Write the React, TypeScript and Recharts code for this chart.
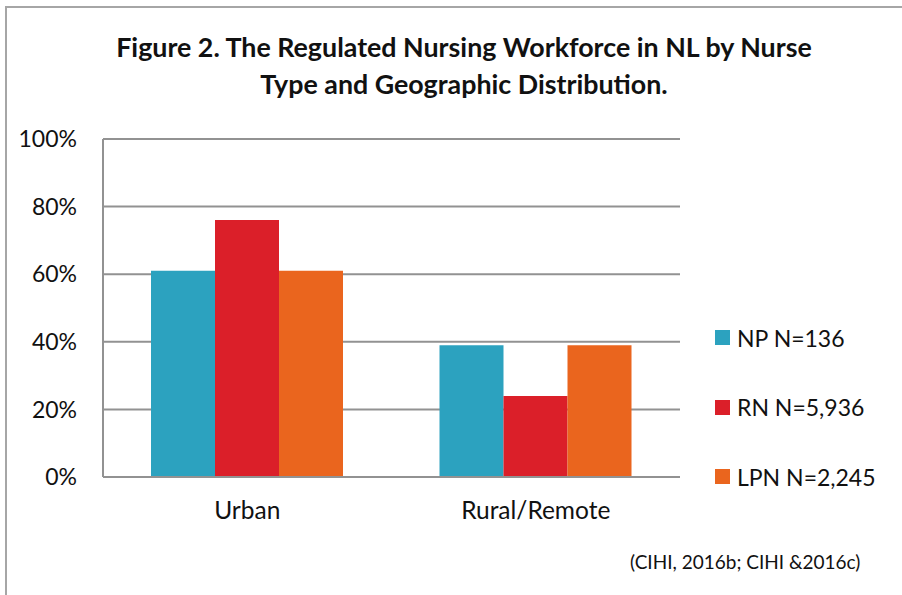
import { Bar, BarChart, CartesianGrid, Legend, XAxis, YAxis } from "recharts";

const categories = ["Urban", "Rural/Remote"];
const npValues = [61, 39];
const rnValues = [76, 24];
const lpnValues = [61, 39];
const yTicks = [0, 20, 40, 60, 80, 100];

const seriesKeys = ["np", "rn", "lpn"];
const seriesNames = ["NP N=136", "RN N=5,936", "LPN N=2,245"];
const seriesColors = ["#2ca2bf", "#db1f29", "#ea651e"];

const data = categories.map((category, i) => ({
  category,
  np: npValues[i],
  rn: rnValues[i],
  lpn: lpnValues[i],
}));

const FONT = "Lato, 'Open Sans', sans-serif";
const GRID = "#929292";

// keep the series order (the default legend sorts by name)
function SideLegend() {
  return (
    <div style={{ fontFamily: FONT }}>
      {seriesNames.map((name, i) => (
        <div key={name} style={{ display: "flex", alignItems: "center", height: 69.5 }}>
          <span style={{ width: 15, height: 15, background: seriesColors[i], marginRight: 7, display: "inline-block" }} />
          <span style={{ fontSize: 23, color: "#111" }}>{name}</span>
        </div>
      ))}
    </div>
  );
}

export default function App() {
  return (
    <div style={{ position: "absolute", left: 0, top: 0, width: 902, height: 595, background: "#fff", overflow: "hidden", fontFamily: FONT }}>
      <div style={{ position: "absolute", left: 5, top: 6, width: 1000, height: 1000, border: "2px solid #a6a6a6" }} />
      <div
        style={{
          position: "absolute",
          left: 0,
          top: 29,
          width: 928,
          textAlign: "center",
          fontWeight: 700,
          fontSize: 26.8,
          lineHeight: "37px",
          color: "#111",
        }}
      >
        Figure 2. The Regulated Nursing Workforce in NL by Nurse
        <br />
        Type and Geographic Distribution.
      </div>
      <div style={{ position: "absolute", left: 0, top: 0 }}>
        <BarChart width={902} height={595} data={data} margin={{ top: 139, right: 222, bottom: 57, left: 0 }} barGap={0} barSize={64}>
          <CartesianGrid vertical={false} stroke={GRID} strokeWidth={2} />
          <XAxis
            dataKey="category"
            axisLine={{ stroke: GRID, strokeWidth: 2 }}
            tickLine={false}
            tickSize={0}
            tickMargin={25}
            height={61}
            tick={{ fill: "#111", fontSize: 24.5, fontFamily: FONT }}
          />
          <YAxis
            domain={[0, 100]}
            ticks={yTicks}
            interval={0}
            width={103}
            tickFormatter={(v: number) => `${v}%`}
            axisLine={{ stroke: GRID, strokeWidth: 2 }}
            tickLine={false}
            tickSize={0}
            tickMargin={26}
            tick={{ fill: "#111", fontSize: 23, fontFamily: FONT }}
          />
          <Legend
            layout="horizontal"
            align="center"
            verticalAlign="middle"
            content={<SideLegend />}
            wrapperStyle={{ position: "absolute", left: 715, top: 303, width: 180 }}
          />
          {seriesKeys.map((key, i) => (
            <Bar key={key} dataKey={key} name={seriesNames[i]} fill={seriesColors[i]} isAnimationActive={false} />
          ))}
        </BarChart>
      </div>
      <div style={{ position: "absolute", left: 630, top: 550, fontSize: 19, color: "#111", whiteSpace: "nowrap" }}>
        (CIHI, 2016b; CIHI &amp;2016c)
      </div>
    </div>
  );
}
